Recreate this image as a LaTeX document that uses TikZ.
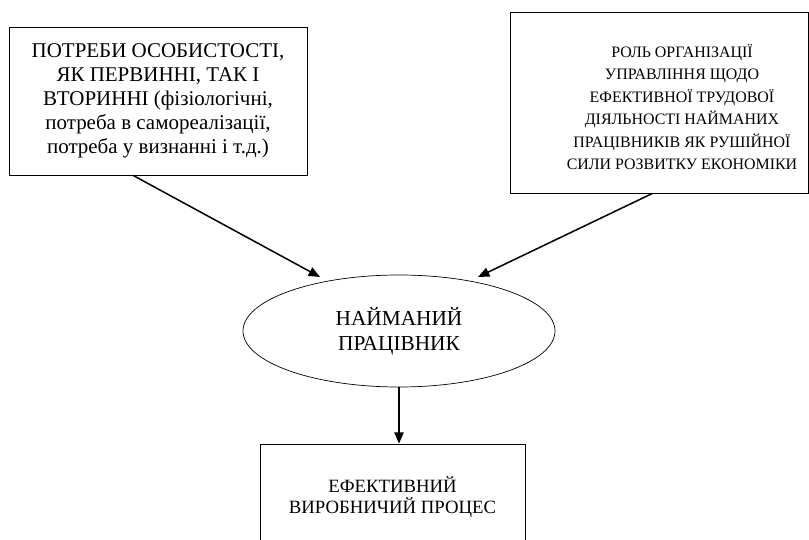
\documentclass[tikz,border=0pt]{standalone}
\usepackage{fontspec}
\setmainfont{Liberation Serif}
\usetikzlibrary{shapes.geometric,arrows.meta}

\begin{document}
\begin{tikzpicture}[x=0.03cm,y=-0.03cm,
  box/.style={draw, line width=0.6pt, inner sep=0pt, align=center},
  arr/.style={-{Triangle[length=3.4mm,width=2.8mm]}, line width=1.3pt}]
\clip (0,0) rectangle (809,540);
% Needs of the person
\node[box, minimum width=8.94cm, minimum height=4.44cm,
  font=\fontsize{17.9}{20.5}\selectfont] (needs) at (158,101)
  {ПОТРЕБИ ОСОБИСТОСТІ,\\ЯК ПЕРВИННІ, ТАК І\\ВТОРИННІ (фізіологічні,\\потреба в самореалізації,\\потреба у визнанні і т.д.)};
% Role of the management
\node[box, minimum width=8.94cm, minimum height=5.415cm] (role) at (659,103) {};
\node[align=center, font=\fontsize{13.6}{19.2}\selectfont] (roletext) at (682,107)
  {РОЛЬ ОРГАНІЗАЦІЇ\\УПРАВЛІННЯ ЩОДО\\ЕФЕКТИВНОЇ ТРУДОВОЇ\\ДІЯЛЬНОСТІ НАЙМАНИХ\\ПРАЦІВНИКІВ ЯК РУШІЙНОЇ\\СИЛИ РОЗВИТКУ ЕКОНОМІКИ};
% Hired worker
\node[draw, ellipse, line width=0.6pt, inner sep=0pt, align=center,
  minimum width=9.36cm, minimum height=3.36cm,
  font=\fontsize{18.2}{21.3}\selectfont] (worker) at (399,331) {НАЙМАНИЙ\\ПРАЦІВНИК};
% Result
\node[box, minimum width=7.95cm, minimum height=3.18cm,
  font=\fontsize{16}{18}\selectfont] (result) at (392.5,497) {ЕФЕКТИВНИЙ\\ВИРОБНИЧИЙ ПРОЦЕС};
% Arrows into the worker
\coordinate (inL) at (320,277);
\coordinate (inR) at (478,277);
\draw[arr] ([xshift=-0.75cm]needs.south) -- (inL);
\draw[arr] ([xshift=-0.21cm]role.south) -- (inR);
\draw[arr] (worker.south) -- (worker.south |- result.north);
\end{tikzpicture}
\end{document}
